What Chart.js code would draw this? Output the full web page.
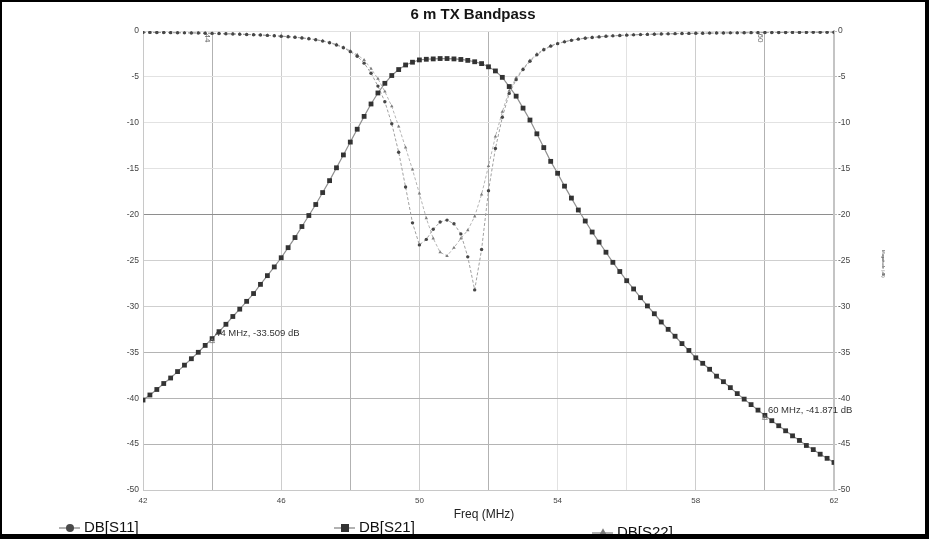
<!DOCTYPE html>
<html>
<head>
<meta charset="utf-8">
<title>6 m TX Bandpass</title>
<script src="https://cdn.jsdelivr.net/npm/chart.js@4.4.1/dist/chart.umd.min.js"></script>
<style>
  html, body { margin: 0; padding: 0; background: #fff; }
  #wrap { position: relative; width: 929px; height: 539px; }
</style>
</head>
<body>
<div id="wrap"><canvas id="sparams" width="929" height="539"></canvas></div>
<script>
// sweep points, MHz (0.2 MHz step)
const freqMHz = [
  42, 42.2, 42.4, 42.6, 42.8, 43, 43.2, 43.4, 43.6, 43.8,
  44, 44.2, 44.4, 44.6, 44.8, 45, 45.2, 45.4, 45.6, 45.8,
  46, 46.2, 46.4, 46.6, 46.8, 47, 47.2, 47.4, 47.6, 47.8,
  48, 48.2, 48.4, 48.6, 48.8, 49, 49.2, 49.4, 49.6, 49.8,
  50, 50.2, 50.4, 50.6, 50.8, 51, 51.2, 51.4, 51.6, 51.8,
  52, 52.2, 52.4, 52.6, 52.8, 53, 53.2, 53.4, 53.6, 53.8,
  54, 54.2, 54.4, 54.6, 54.8, 55, 55.2, 55.4, 55.6, 55.8,
  56, 56.2, 56.4, 56.6, 56.8, 57, 57.2, 57.4, 57.6, 57.8,
  58, 58.2, 58.4, 58.6, 58.8, 59, 59.2, 59.4, 59.6, 59.8,
  60, 60.2, 60.4, 60.6, 60.8, 61, 61.2, 61.4, 61.6, 61.8,
  62
];

// input return loss (dB)
const dbS11 = [
  -0.15, -0.15, -0.16, -0.17, -0.18, -0.19, -0.2, -0.21, -0.22, -0.24,
  -0.26, -0.28, -0.3, -0.32, -0.35, -0.38, -0.41, -0.44, -0.48, -0.52,
  -0.57, -0.62, -0.68, -0.76, -0.85, -0.96, -1.1, -1.28, -1.52, -1.83,
  -2.25, -2.75, -3.5, -4.6, -6.0, -7.7, -10.1, -13.2, -17.0, -20.9,
  -23.3, -22.7, -21.6, -20.8, -20.6, -21.0, -22.1, -24.6, -28.2, -23.8,
  -17.4, -12.8, -9.4, -6.8, -5.3, -4.2, -3.3, -2.6, -2.05, -1.65,
  -1.38, -1.18, -1.02, -0.89, -0.79, -0.71, -0.64, -0.58, -0.53, -0.49,
  -0.45, -0.42, -0.39, -0.37, -0.35, -0.33, -0.31, -0.29, -0.28, -0.26,
  -0.25, -0.24, -0.23, -0.22, -0.21, -0.2, -0.2, -0.19, -0.18, -0.18,
  -0.17, -0.17, -0.16, -0.16, -0.15, -0.15, -0.15, -0.14, -0.14, -0.14,
  -0.13
];

// through (dB)
const dbS21 = [
  -40.2, -39.65, -39.05, -38.4, -37.8, -37.1, -36.4, -35.7, -35.0, -34.25,
  -33.51, -32.75, -31.95, -31.1, -30.3, -29.45, -28.6, -27.6, -26.65, -25.7,
  -24.7, -23.6, -22.5, -21.3, -20.1, -18.9, -17.6, -16.3, -14.9, -13.5,
  -12.1, -10.7, -9.3, -7.95, -6.75, -5.7, -4.85, -4.2, -3.7, -3.4,
  -3.15, -3.08, -3.04, -3.0, -3.0, -3.04, -3.1, -3.2, -3.35, -3.55,
  -3.9, -4.35, -5.05, -6.05, -7.1, -8.4, -9.7, -11.2, -12.7, -14.2,
  -15.5, -16.9, -18.2, -19.5, -20.7, -21.9, -23.0, -24.1, -25.2, -26.2,
  -27.2, -28.1, -29.05, -29.95, -30.8, -31.7, -32.5, -33.25, -34.05, -34.8,
  -35.6, -36.2, -36.85, -37.6, -38.2, -38.85, -39.5, -40.1, -40.7, -41.3,
  -41.87, -42.45, -43.0, -43.55, -44.1, -44.6, -45.15, -45.6, -46.1, -46.55,
  -47.0
];

// output return loss (dB)
const dbS22 = [
  -0.14, -0.15, -0.15, -0.16, -0.17, -0.18, -0.19, -0.2, -0.21, -0.23,
  -0.25, -0.27, -0.29, -0.31, -0.34, -0.37, -0.4, -0.43, -0.47, -0.51,
  -0.56, -0.61, -0.67, -0.74, -0.83, -0.94, -1.07, -1.24, -1.47, -1.77,
  -2.15, -2.6, -3.15, -4.1, -5.2, -6.6, -8.2, -10.4, -12.7, -15.1,
  -17.7, -20.4, -22.6, -24.1, -24.5, -23.6, -22.6, -21.7, -20.2, -17.8,
  -14.7, -11.5, -8.8, -6.5, -5.1, -4.1, -3.2, -2.5, -2.0, -1.6,
  -1.35, -1.15, -1.0, -0.87, -0.77, -0.69, -0.62, -0.57, -0.52, -0.48,
  -0.44, -0.41, -0.38, -0.36, -0.34, -0.32, -0.3, -0.29, -0.27, -0.26,
  -0.25, -0.24, -0.23, -0.22, -0.21, -0.2, -0.19, -0.19, -0.18, -0.17,
  -0.17, -0.16, -0.16, -0.15, -0.15, -0.15, -0.14, -0.14, -0.14, -0.13,
  -0.13
];

const seriesNames = ["DB[S11]", "DB[S21]", "DB[S22]"];
const xTickLabels = [42, 46, 50, 54, 58, 62];
const markerFreq = [44, 60];
const markerDb = [-33.509, -41.871];

const FONT = '"Liberation Sans", Arial, sans-serif';
Chart.defaults.font.family = FONT;

var toPoints = (ys) => freqMHz.map((f, i) => ({ x: f, y: ys[i] }));

// some grid lines come out darker on the original print
function xGridColor(ctx) {
  const v = ctx.tick ? ctx.tick.value : null;
  if ([44, 48, 52, 60].includes(v)) return "#b2b2b2";
  if ([46, 50, 58].includes(v)) return "#cdcdcd";
  return "#e2e2e2";
}
function yGridColor(ctx) {
  const v = ctx.tick ? ctx.tick.value : null;
  if (v === -20) return "#8e8e8e";
  if (v === -35 || v === -40 || v === -45) return "#b4b4b4";
  if (v === -25 || v === -30) return "#cfcfcf";
  return "#e2e2e2";
}

function drawMark(ctx, style, x, y, r, color) {
  ctx.fillStyle = color;
  ctx.beginPath();
  if (style === "rect") {
    ctx.rect(x - r, y - r, 2 * r, 2 * r);
  } else if (style === "triangle") {
    ctx.moveTo(x, y - r * 1.2);
    ctx.lineTo(x + r * 1.1, y + r * 0.8);
    ctx.lineTo(x - r * 1.1, y + r * 0.8);
    ctx.closePath();
  } else {
    ctx.arc(x, y, r, 0, Math.PI * 2);
  }
  ctx.fill();
}

const decor = {
  id: "decor",
  afterDraw(chart) {
    const { ctx, scales } = chart;
    const xs = scales.x, ys = scales.y;
    ctx.save();

    // title
    ctx.fillStyle = "#151515";
    ctx.font = "bold 15px " + FONT;
    ctx.textAlign = "center";
    ctx.textBaseline = "middle";
    ctx.fillText("6 m TX Bandpass", 473, 15);

    // x axis title
    ctx.font = "12px " + FONT;
    ctx.fillStyle = "#222";
    ctx.fillText("Freq (MHz)", 484, 515);

    // tiny right-hand axis title
    ctx.save();
    ctx.translate(883, 264);
    ctx.rotate(Math.PI / 2);
    ctx.font = "4px " + FONT;
    ctx.fillStyle = "#333";
    ctx.fillText("Magnitude (dB)", 0, 0);
    ctx.restore();

    // frequency markers
    markerFreq.forEach((f, i) => {
      const px = xs.getPixelForValue(f);
      const py = ys.getPixelForValue(markerDb[i]);
      ctx.strokeStyle = "#777";
      ctx.lineWidth = 0.8;
      ctx.beginPath();
      ctx.moveTo(px, py);
      ctx.lineTo(px - 2.5, py + 4);
      ctx.lineTo(px + 2.5, py + 4);
      ctx.closePath();
      ctx.stroke();
      ctx.font = "9.5px " + FONT;
      ctx.fillStyle = "#333";
      ctx.textAlign = "left";
      ctx.textBaseline = "middle";
      ctx.fillText(f + " MHz, " + markerDb[i].toFixed(3) + " dB", px + 3, py - 5);

      // rotated frequency tag at top of marker line
      ctx.save();
      ctx.translate(px - 5, chart.chartArea.top + 7);
      ctx.rotate(Math.PI / 2);
      ctx.font = "8px " + FONT;
      ctx.fillStyle = "#666";
      ctx.textAlign = "center";
      ctx.fillText(String(f), 0, 0);
      ctx.restore();
    });

    // legend along the bottom
    const styles = ["circle", "rect", "triangle"];
    const colors = ["#4a4a4a", "#333", "#7a7a7a"];
    const lx = [70, 345, 603];
    const ly = [528, 528, 533];
    seriesNames.forEach((name, i) => {
      ctx.strokeStyle = "#999";
      ctx.lineWidth = 1.5;
      ctx.beginPath();
      ctx.moveTo(lx[i] - 11, ly[i]);
      ctx.lineTo(lx[i] + 10, ly[i]);
      ctx.stroke();
      drawMark(ctx, styles[i], lx[i], ly[i], 4, colors[i]);
      ctx.font = "15px " + FONT;
      ctx.fillStyle = "#111";
      ctx.textAlign = "left";
      ctx.textBaseline = "middle";
      ctx.fillText(name, lx[i] + 14, ly[i]);
    });

    // black frame around the picture
    ctx.fillStyle = "#000";
    ctx.fillRect(0, 0, 929, 2);
    ctx.fillRect(0, 0, 2, 539);
    ctx.fillRect(0, 534, 929, 5);
    ctx.fillRect(925, 0, 4, 539);

    ctx.restore();
  }
};

const config = {
  type: "line",
  data: {
    datasets: [
      {
        label: seriesNames[0],
        data: toPoints(dbS11),
        borderColor: "#a0a0a0",
        borderWidth: 1,
        borderDash: [3, 2],
        pointStyle: "circle",
        pointRadius: 1.7,
        pointBorderWidth: 0,
        pointBackgroundColor: "#474747",
        order: 2
      },
      {
        label: seriesNames[1],
        data: toPoints(dbS21),
        borderColor: "#909090",
        borderWidth: 1.2,
        pointStyle: "rect",
        pointRadius: 3.4,
        pointBorderWidth: 0,
        pointBackgroundColor: "#333",
        order: 1
      },
      {
        label: seriesNames[2],
        data: toPoints(dbS22),
        borderColor: "#b4b4b4",
        borderWidth: 1,
        borderDash: [3, 2],
        pointStyle: "triangle",
        pointRadius: 2,
        pointBorderWidth: 0,
        pointBackgroundColor: "#7c7c7c",
        order: 3
      }
    ]
  },
  options: {
    responsive: false,
    animation: false,
    layout: { padding: { top: 31, left: 0, right: 0, bottom: 0 } },
    plugins: {
      legend: { display: false },
      title: { display: false },
      tooltip: { enabled: false }
    },
    scales: {
      x: {
        type: "linear",
        min: 42,
        max: 62,
        afterFit: (s) => { s.height = 49; },
        border: { color: "#c8c8c8", width: 1 },
        grid: { color: xGridColor, tickLength: 0 },
        ticks: {
          stepSize: 2,
          autoSkip: false,
          maxRotation: 0,
          padding: 6,
          color: "#444",
          font: { size: 8 },
          callback: (v) => (xTickLabels.includes(v) ? String(v) : "")
        }
      },
      y: {
        position: "left",
        min: -50,
        max: 0,
        afterFit: (s) => { s.width = 143; },
        border: { color: "#c8c8c8", width: 1 },
        grid: { color: yGridColor, tickLength: 0 },
        ticks: { stepSize: 5, padding: 4, color: "#444", font: { size: 8.5 } }
      },
      y2: {
        position: "right",
        min: -50,
        max: 0,
        afterFit: (s) => { s.width = 95; },
        border: { color: "#c4c4c4", width: 2 },
        grid: { drawOnChartArea: false, tickLength: 3, tickColor: "#bbb" },
        ticks: { stepSize: 5, padding: 1, color: "#444", font: { size: 8.5 } }
      }
    }
  },
  plugins: [decor]
};

var sparamChart = new Chart(document.getElementById("sparams").getContext("2d"), config);
</script>
</body>
</html>
